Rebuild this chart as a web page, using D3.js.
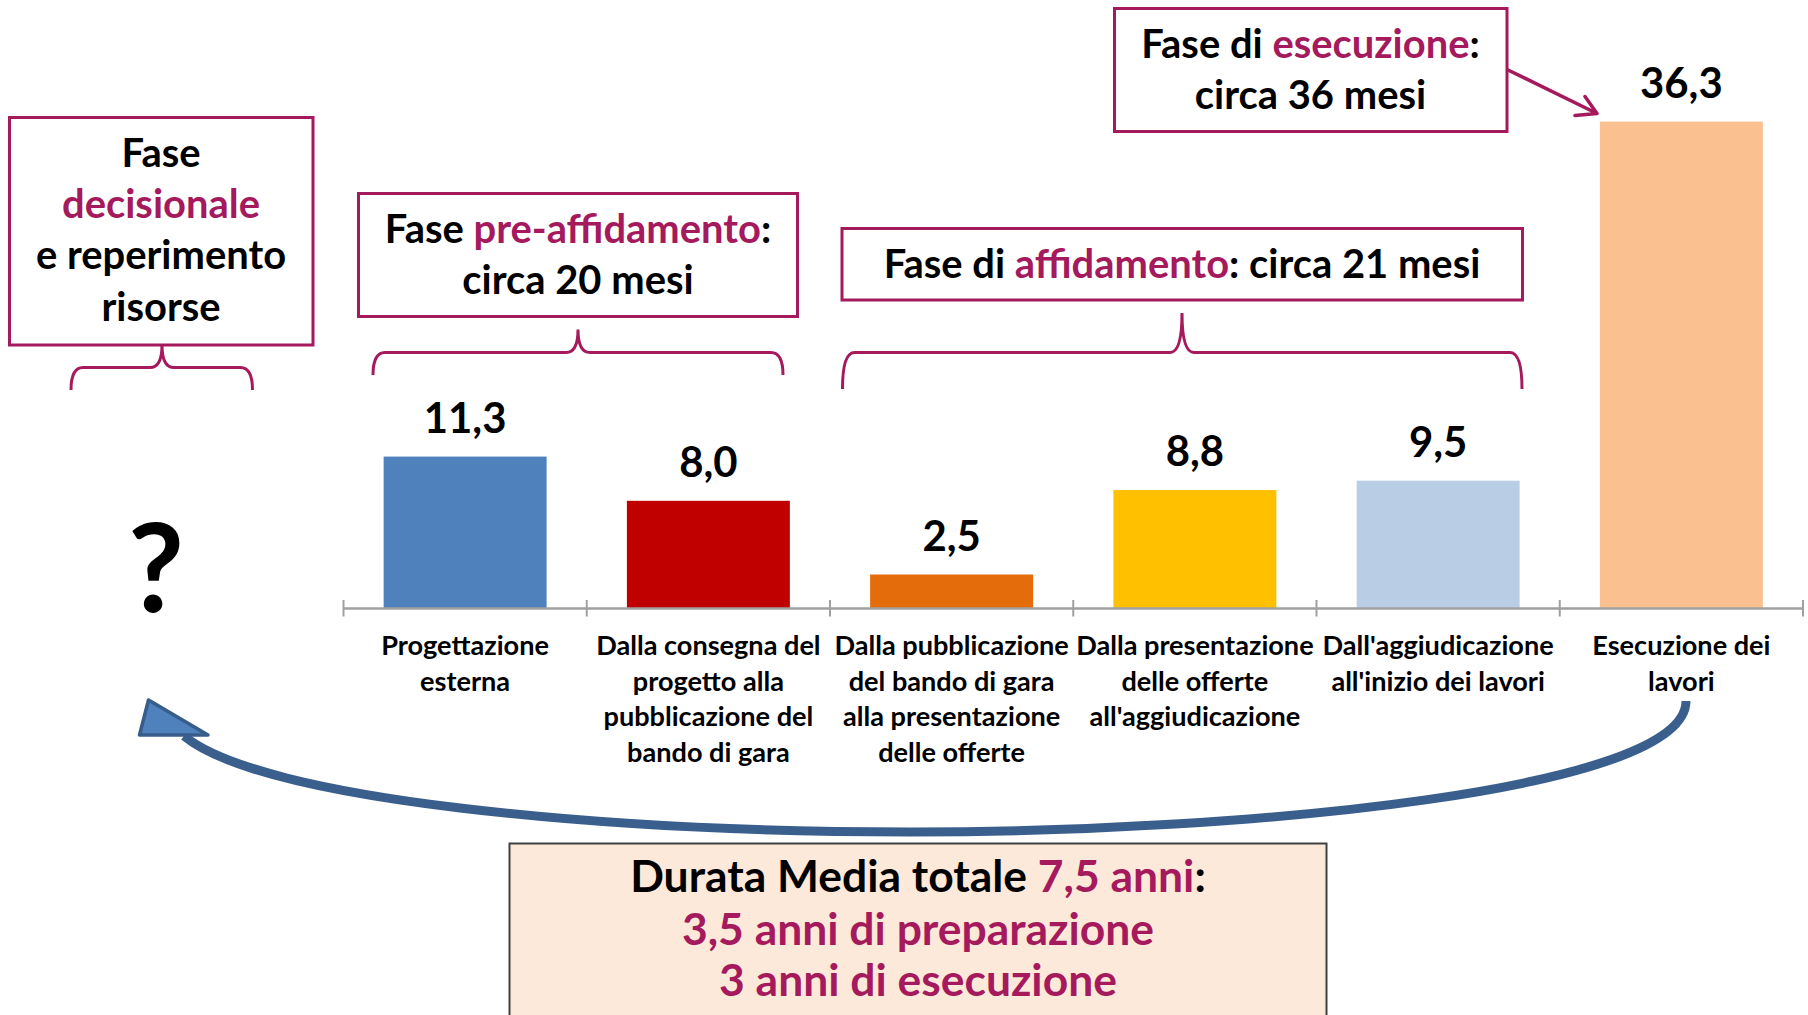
<!DOCTYPE html>
<html>
<head>
<meta charset="utf-8">
<title>Durata media delle opere pubbliche</title>
<script src="https://cdn.jsdelivr.net/npm/d3@7"></script>
<style>
	body { margin: 0; background: #fff; }
	svg { display: block; font-family: Lato, "Open Sans", sans-serif; font-weight: bold; }
</style>
</head>
<body>
<svg id="chart" width="1808" height="1015"></svg>
<script>
(function (){
	"use strict";

// DATA
var categories = [
	"Progettazione esterna",
	"Dalla consegna del progetto alla pubblicazione del bando di gara",
	"Dalla pubblicazione del bando di gara alla presentazione delle offerte",
	"Dalla presentazione delle offerte all'aggiudicazione",
	"Dall'aggiudicazione all'inizio dei lavori",
	"Esecuzione dei lavori"
];
var categoryLines = [
	["Progettazione", "esterna"],
	["Dalla consegna del", "progetto alla", "pubblicazione del", "bando di gara"],
	["Dalla pubblicazione", "del bando di gara", "alla presentazione", "delle offerte"],
	["Dalla presentazione", "delle offerte", "all'aggiudicazione"],
	["Dall'aggiudicazione", "all'inizio dei lavori"],
	["Esecuzione dei", "lavori"]
];
var values = [11.3, 8.0, 2.5, 8.8, 9.5, 36.3];
var barColors = ["#4f81bd", "#c00000", "#e46c0a", "#ffc000", "#b9cde5", "#fac090"];

// phase boxes: each line is a list of [text, highlighted]
var phaseTexts = [
	[[["Fase", 0]], [["decisionale", 1]], [["e reperimento", 0]], [["risorse", 0]]],
	[[["Fase ", 0], ["pre-affidamento", 1], [":", 0]], [["circa 20 mesi", 0]]],
	[[["Fase di ", 0], ["affidamento", 1], [": circa 21 mesi", 0]]],
	[[["Fase di ", 0], ["esecuzione", 1], [":", 0]], [["circa 36 mesi", 0]]]
];
var totalTexts = [
	[["Durata Media totale ", 0], ["7,5 anni", 1], [":", 0]],
	[["3,5 anni di preparazione", 1]],
	[["3 anni di esecuzione", 1]]
];

// LAYOUT
var W = 1808, H = 1015,
	axisY = 608,
	magenta = "#a5195d",
	blueDark = "#3b5f8d";

var boxLayout = [
	{x: 9.5, y: 117.5, w: 303.5, h: 227.5, cx: 161, base: [167, 218, 269, 320.5]},
	{x: 358.5, y: 193.5, w: 439, h: 123, cx: 578, base: [243, 294]},
	{x: 842, y: 228.5, w: 680.5, h: 71.5, cx: 1182, base: [277.5]},
	{x: 1114.5, y: 8.5, w: 392.5, h: 123, cx: 1310.5, base: [57.5, 108.5]}
];
var braceLayout = [
	{x0: 71, x1: 252.5, xm: 162, yh: 367.5, yEnd: 390, yPeak: 345},
	{x0: 373, x1: 783, xm: 578, yh: 352.5, yEnd: 375, yPeak: 329.5},
	{x0: 842.5, x1: 1522, xm: 1182, yh: 352.5, yEnd: 389, yPeak: 313}
];

var svg = d3.select("#chart");

svg.append("rect")
	.attr("width", W)
	.attr("height", H)
	.attr("fill", "#fff");

// font sizes fitted to the widths of the original (Calibri) texts
function measure(str, size){
	var t = svg.append("text")
		.style("font-size", size + "px")
		.text(str);
	var w = t.node().getComputedTextLength();
	t.remove();
	return w;
}
function fit(str, target){
	return 100 * target / measure(str, 100);
}
var valueSize = fit("36,3", 82.7),
	catSize = fit("Dalla consegna del", 224.5),
	boxSize = fit("Fase di affidamento: circa 21 mesi", 597),
	totalSize = fit("3 anni di esecuzione", 398);

var fmt = d3.formatLocale({decimal: ",", thousands: ".", grouping: [3], currency: ["", " €"]}).format(".1f");

var rows = categories.map(function(c, i){
	return {cat: c, value: values[i], color: barColors[i], lines: categoryLines[i]};
});

// SCALES
var x = d3.scaleBand()
	.domain(categories)
	.range([343.5, 1803])
	.paddingInner(0.33)
	.paddingOuter(0.165);

var y = d3.scaleLinear()
	.domain([0, 40])
	.range([axisY, axisY - 536]);

// BARS
svg.append("g")
	.selectAll("rect").data(rows)
	.join("rect")
		.attr("x", function(d){ return x(d.cat); })
		.attr("y", function(d){ return y(d.value); })
		.attr("width", x.bandwidth())
		.attr("height", function(d){ return y(0) - y(d.value); })
		.attr("fill", function(d){ return d.color; });

// AXIS
var axisG = svg.append("g")
	.attr("transform", "translate(0," + axisY + ")")
	.call(d3.axisBottom(x).tickSize(0).tickSizeOuter(0).tickFormat(""));
axisG.select(".domain")
	.attr("stroke", "#a0a0a0")
	.attr("stroke-width", 2.5);
axisG.selectAll(".tick").remove();

axisG.selectAll("line.sep")
	.data(d3.range(categories.length + 1))
	.join("line")
		.attr("class", "sep")
		.attr("x1", function(i){ return x.range()[0] + i * x.step(); })
		.attr("x2", function(i){ return x.range()[0] + i * x.step(); })
		.attr("y1", -8)
		.attr("y2", 8.5)
		.attr("stroke", "#a0a0a0")
		.attr("stroke-width", 2);

// category labels
svg.append("g")
	.selectAll("text").data(rows)
	.join("text")
		.attr("text-anchor", "middle")
		.style("font-size", catSize + "px")
		.attr("fill", "#000")
		.each(function(d){
			var cx = x(d.cat) + x.bandwidth() / 2;
			d3.select(this).selectAll("tspan")
				.data(d.lines)
				.join("tspan")
					.attr("x", cx)
					.attr("y", function(l, j){ return 655 + j * 35.5; })
					.text(function(l){ return l; });
		});

// value labels
svg.append("g")
	.selectAll("text").data(rows)
	.join("text")
		.attr("x", function(d){ return x(d.cat) + x.bandwidth() / 2; })
		.attr("y", function(d){ return y(d.value) - 24; })
		.attr("text-anchor", "middle")
		.style("font-size", valueSize + "px")
		.attr("fill", "#000")
		.text(function(d){ return fmt(d.value); });

// question mark for the decision phase
svg.append("text")
	.attr("x", 156)
	.attr("y", 612)
	.attr("text-anchor", "middle")
	.style("font-size", "122px")
	.attr("fill", "#000")
	.text("?");

// PHASE BOXES
function writeLines(g, lines, cx, base, size){
	lines.forEach(function(line, j){
		var t = g.append("text")
			.attr("x", cx)
			.attr("y", base[j])
			.attr("text-anchor", "middle")
			.style("font-size", size + "px");
		t.selectAll("tspan").data(line)
			.join("tspan")
				.attr("fill", function(s){ return s[1] ? magenta : "#000"; })
				.text(function(s){ return s[0]; });
	});
}

var boxes = svg.append("g");
boxLayout.forEach(function(b, i){
	var g = boxes.append("g");
	g.append("rect")
		.attr("x", b.x)
		.attr("y", b.y)
		.attr("width", b.w)
		.attr("height", b.h)
		.attr("fill", "#fff")
		.attr("stroke", magenta)
		.attr("stroke-width", 3);
	writeLines(g, phaseTexts[i], b.cx, b.base, boxSize);
});

// braces under the boxes
function bracePath(b){
	var r = 12, p = d3.path();
	p.moveTo(b.x0, b.yEnd);
	p.quadraticCurveTo(b.x0, b.yh, b.x0 + r, b.yh);
	p.lineTo(b.xm - r, b.yh);
	p.quadraticCurveTo(b.xm, b.yh, b.xm, b.yPeak);
	p.moveTo(b.xm, b.yPeak);
	p.quadraticCurveTo(b.xm, b.yh, b.xm + r, b.yh);
	p.lineTo(b.x1 - r, b.yh);
	p.quadraticCurveTo(b.x1, b.yh, b.x1, b.yEnd);
	return p.toString();
}
svg.append("g")
	.selectAll("path").data(braceLayout)
	.join("path")
		.attr("d", bracePath)
		.attr("fill", "none")
		.attr("stroke", magenta)
		.attr("stroke-width", 3)
		.attr("stroke-linejoin", "round");

// arrow from the execution box to the last bar
svg.append("path")
	.attr("d", "M1508,70L1597,113.5M1585,96.5L1597,113.5L1575,115.5")
	.attr("fill", "none")
	.attr("stroke", magenta)
	.attr("stroke-width", 3.5)
	.attr("stroke-linecap", "round")
	.attr("stroke-linejoin", "round");

// BIG RETURN ARROW
svg.append("path")
	.attr("d", "M1686,701C1686,790 1250,832 911,832C600,832 262,800 184,736")
	.attr("fill", "none")
	.attr("stroke", blueDark)
	.attr("stroke-width", 9);
svg.append("path")
	.attr("d", "M148.5,700L139.5,735L208,735Z")
	.attr("fill", "#4f81bd")
	.attr("stroke", "#385d8a")
	.attr("stroke-width", 3.5)
	.attr("stroke-linejoin", "round");

// TOTAL BOX
var tot = svg.append("g");
tot.append("rect")
	.attr("x", 509.5)
	.attr("y", 843.5)
	.attr("width", 817)
	.attr("height", 200)
	.attr("fill", "#fde9d9")
	.attr("stroke", "#404040")
	.attr("stroke-width", 2);
writeLines(tot, totalTexts, 918, [891.5, 945, 996], totalSize);

})();
</script>
</body>
</html>
